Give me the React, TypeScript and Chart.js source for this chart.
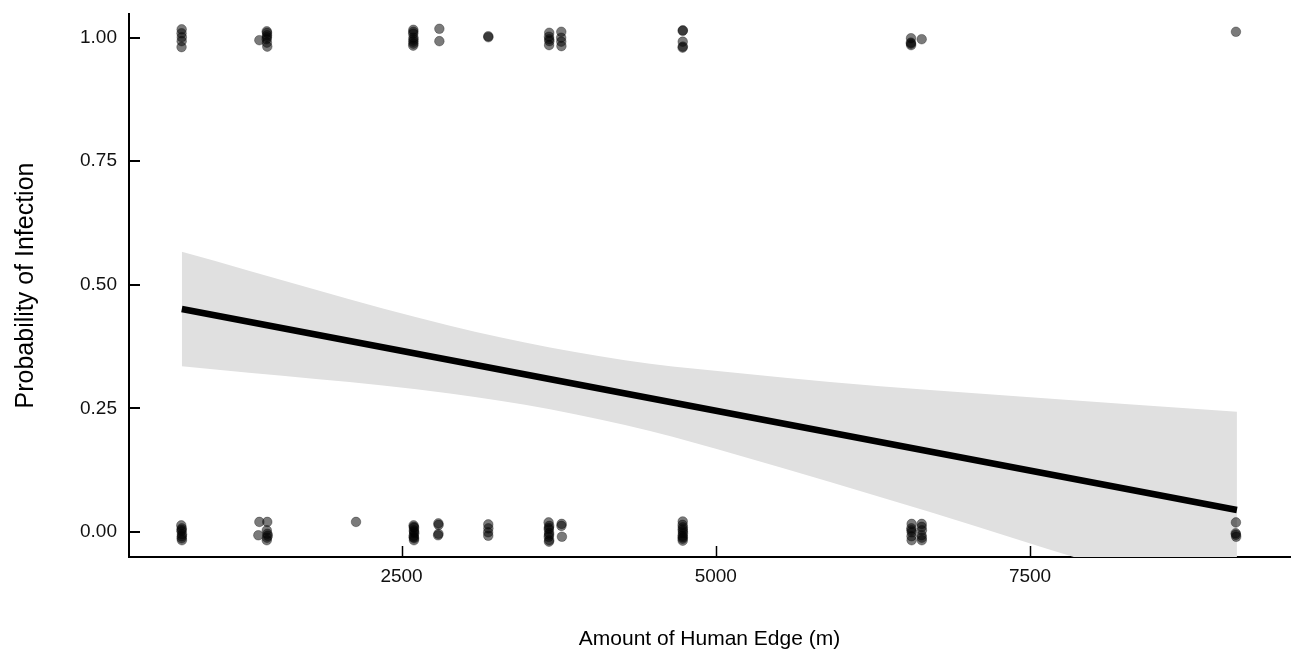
import React, { useEffect, useRef } from 'react';
import { Chart, registerables } from 'chart.js';

Chart.register(...registerables);

// ---- Data ----
const xTickValues = [2500, 5000, 7500];
const yTickValues = [0, 0.25, 0.5, 0.75, 1];
const yTickLabels = ['0.00', '0.25', '0.50', '0.75', '1.00'];

// jittered observations (x = human edge in m, y = infected 0/1 with jitter)
const obsX = [
  // y ~ 0
  748, 752, 750, 754, 751, 753, 750, 752,
  1369, 1432, 1361, 1428, 1428, 1436, 1430, 1433,
  2138,
  2596, 2600, 2598, 2601, 2597, 2600, 2599, 2598, 2600, 2597,
  2793, 2795, 2791, 2794,
  3190, 3191, 3189, 3190,
  3670, 3675, 3672, 3674, 3671, 3675, 3673, 3672, 3674,
  3774, 3772, 3776,
  4737, 4736, 4738, 4737, 4739, 4736, 4738, 4737, 4738, 4736,
  6558, 6556, 6559, 6557, 6558, 6557,
  6638, 6640, 6637, 6639, 6638, 6639,
  9138, 9136, 9140, 9138,
  // y ~ 1
  751, 750, 752, 751, 750,
  1428, 1430, 1427, 1429, 1369, 1432, 1430, 1429,
  2594, 2593, 2595, 2594, 2593, 2595, 2594, 2595,
  2801, 2801,
  3190, 3191,
  3675, 3673, 3676, 3674, 3675,
  3771, 3771, 3772, 3770,
  4737, 4738, 4737, 4736, 4738,
  6553, 6552, 6554, 6553,
  6638,
  9138,
];
const obsY = [
  0.013, 0.007, 0.001, -0.005, -0.013, -0.017, 0.004, -0.009,
  0.020, 0.020, -0.007, 0.003, -0.017, -0.008, -0.012, -0.004,
  0.020,
  0.013, 0.008, 0.003, -0.003, -0.008, -0.013, -0.017, 0.010, 0.000, -0.011,
  0.017, 0.014, -0.007, -0.004,
  0.015, 0.007, -0.001, -0.008,
  0.019, 0.012, 0.005, -0.002, -0.010, -0.017, -0.020, 0.008, -0.006,
  0.016, 0.012, -0.010,
  0.021, 0.014, 0.009, 0.005, -0.003, -0.008, -0.011, -0.018, 0.001, -0.014,
  0.016, 0.007, -0.001, -0.009, -0.017, 0.003,
  0.016, 0.003, -0.007, -0.017, 0.010, -0.012,
  0.019, -0.003, -0.010, -0.006,
  1.017, 1.009, 1.001, 0.993, 0.981,
  1.013, 1.005, 0.997, 0.990, 0.995, 0.982, 1.010, 1.001,
  1.016, 1.008, 1.000, 0.992, 0.984, 0.988, 1.012, 0.996,
  1.018, 0.993,
  1.003, 1.001,
  1.010, 1.002, 0.993, 0.985, 0.997,
  1.012, 0.992, 0.983, 1.000,
  1.014, 1.015, 0.992, 0.980, 0.982,
  0.999, 0.990, 0.985, 0.988,
  0.997,
  1.012,
];

// fitted line (straight)
const fitX = [752, 9146];
const fitY = [0.451, 0.044];

// confidence band samples
const bandX = [752, 2885, 3681, 4477, 5193, 5909, 6704, 7420, 9146];
const bandUpper = [0.567, 0.417, 0.373, 0.340, 0.321, 0.303, 0.287, 0.274, 0.243];
const bandLower = [0.335, 0.280, 0.248, 0.204, 0.154, 0.101, 0.040, -0.017, -0.154];

const xAxisTitle = 'Amount of Human Edge (m)';
const yAxisTitle = 'Probability of Infection';

const FONT = '"Liberation Sans", Arial, Helvetica, sans-serif';

export default function App() {
  const ref = useRef<HTMLCanvasElement>(null);

  useEffect(() => {
    if (!ref.current) return;

    const inwardTicks = {
      id: 'inwardTicks',
      afterDatasetsDraw(chart: any) {
        const c = chart.ctx;
        const { left, bottom } = chart.chartArea;
        c.save();
        c.strokeStyle = '#000';
        c.lineWidth = 2;
        const ys = chart.scales.y;
        yTickValues.forEach((v) => {
          const py = Math.round(ys.getPixelForValue(v));
          c.beginPath();
          c.moveTo(left, py);
          c.lineTo(left + 11, py);
          c.stroke();
        });
        c.lineWidth = 1.5;
        const xs = chart.scales.x;
        xTickValues.forEach((v) => {
          const px = Math.round(xs.getPixelForValue(v)) + 0.5;
          c.beginPath();
          c.moveTo(px, bottom);
          c.lineTo(px, bottom - 11);
          c.stroke();
        });
        c.restore();
      },
    };

    const chart = new Chart(ref.current, {
      type: 'line',
      data: {
        datasets: [
          {
            label: 'upper',
            data: bandX.map((x, i) => ({ x, y: bandUpper[i] })),
            borderColor: 'rgba(0,0,0,0)',
            borderWidth: 0,
            pointRadius: 0,
            fill: false,
            cubicInterpolationMode: 'monotone',
            order: 3,
          },
          {
            label: 'lower',
            data: bandX.map((x, i) => ({ x, y: bandLower[i] })),
            borderColor: 'rgba(0,0,0,0)',
            borderWidth: 0,
            pointRadius: 0,
            fill: '-1',
            backgroundColor: 'rgb(224,224,224)',
            cubicInterpolationMode: 'monotone',
            order: 2,
          },
          {
            label: 'obs',
            data: obsX.map((x, i) => ({ x, y: obsY[i] })),
            showLine: false,
            pointRadius: 4.8,
            pointBackgroundColor: 'rgba(0,0,0,0.52)',
            pointBorderColor: 'rgba(0,0,0,0.4)',
            pointBorderWidth: 0.8,
            order: 1,
          },
          {
            label: 'fit',
            data: fitX.map((x, i) => ({ x, y: fitY[i] })),
            borderColor: '#000',
            borderWidth: 6.5,
            borderCapStyle: 'butt',
            pointRadius: 0,
            fill: false,
            order: 0,
          },
        ],
      } as any,
      options: {
        animation: false,
        responsive: true,
        maintainAspectRatio: false,
        layout: { padding: { top: 14, right: 7, left: 0, bottom: 0 } },
        plugins: {
          legend: { display: false },
          tooltip: { enabled: false },
        },
        scales: {
          x: {
            type: 'linear',
            min: 332,
            max: 9568,
            grid: { display: false, drawTicks: false },
            border: { display: true, color: '#000', width: 2 },
            afterBuildTicks: (s: any) => {
              s.ticks = xTickValues.map((v) => ({ value: v }));
            },
            afterFit: (s: any) => {
              s.height = 94;
              s.paddingLeft = 0;
              s.paddingRight = 0;
            },
            ticks: {
              padding: 8,
              autoSkip: false,
              maxRotation: 0,
              color: '#111',
              font: { family: FONT, size: 19 },
              callback: (v: any) => String(v),
            },
            title: {
              display: true,
              text: xAxisTitle,
              color: '#000',
              font: { family: FONT, size: 21, lineHeight: 1.0 },
              padding: { top: 0, bottom: 1 },
            },
          },
          y: {
            type: 'linear',
            min: -0.051,
            max: 1.048,
            grid: { display: false, drawTicks: false },
            border: { display: true, color: '#000', width: 2 },
            afterBuildTicks: (s: any) => {
              s.ticks = yTickValues.map((v) => ({ value: v }));
            },
            afterFit: (s: any) => {
              s.width = 129;
              s.paddingTop = 0;
              s.paddingBottom = 0;
            },
            ticks: {
              padding: 12,
              autoSkip: false,
              color: '#111',
              font: { family: FONT, size: 19 },
              callback: (v: any) => {
                const i = yTickValues.indexOf(v);
                return i >= 0 ? yTickLabels[i] : '';
              },
            },
            title: {
              display: true,
              text: yAxisTitle,
              color: '#000',
              font: { family: FONT, size: 25, lineHeight: 1.2 },
              padding: { top: 11, bottom: 0 },
            },
          },
        },
      } as any,
      plugins: [inwardTicks],
    });

    return () => chart.destroy();
  }, []);

  return (
    <div
      style={{
        position: 'fixed',
        left: 0,
        top: 0,
        width: 1297,
        height: 651,
        background: '#fff',
      }}
    >
      <canvas ref={ref} />
    </div>
  );
}
